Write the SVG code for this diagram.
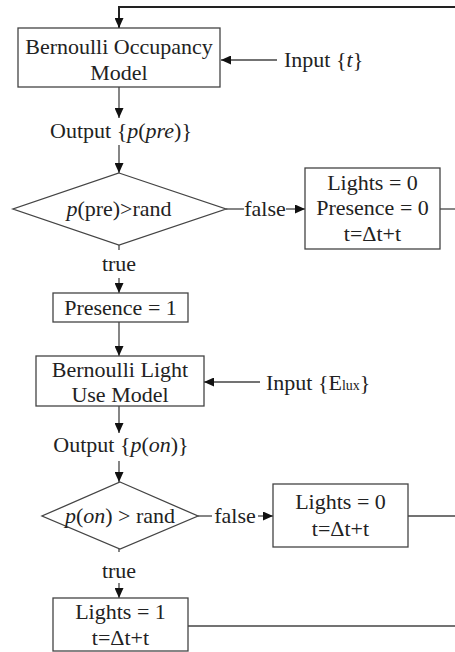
<svg xmlns="http://www.w3.org/2000/svg" width="455" height="652" viewBox="0 0 455 652">
<style>
text{font-family:"Liberation Serif","Times New Roman",serif;font-size:22px;fill:#222;}
.c{text-anchor:middle;}
.i{font-style:italic;}
.n{fill:#fff;stroke:#444;stroke-width:1.3;}
.e{fill:none;stroke:#444;stroke-width:1.3;}
.e2{fill:none;stroke:#222;stroke-width:2;}
</style>
<defs>
<marker id="a" markerUnits="userSpaceOnUse" markerWidth="10" markerHeight="9" refX="10" refY="4.5" orient="auto">
<path d="M0,0 L10,4.5 L0,9 z" fill="#111"/>
</marker>
</defs>
<rect width="455" height="652" fill="#fff"/>
<g id="connectors">
<path class="e2" d="M455,7 H119 V28" marker-end="url(#a)"/>
<line class="e" x1="277" y1="60" x2="221" y2="60" marker-end="url(#a)"/>
<line class="e" x1="119" y1="87" x2="119" y2="118" marker-end="url(#a)"/>
<line class="e" x1="119" y1="145" x2="119" y2="173" marker-end="url(#a)"/>
<line class="e" x1="226" y1="209" x2="244" y2="209"/>
<line class="e" x1="286" y1="209" x2="305" y2="209" marker-end="url(#a)"/>
<line class="e" x1="440" y1="209" x2="455" y2="209"/>
<line class="e" x1="119" y1="245" x2="119" y2="250"/>
<line class="e" x1="119" y1="278" x2="119" y2="293" marker-end="url(#a)"/>
<line class="e" x1="119" y1="322" x2="119" y2="356" marker-end="url(#a)"/>
<line class="e" x1="260" y1="382" x2="204" y2="382" marker-end="url(#a)"/>
<line class="e" x1="119" y1="406" x2="119" y2="433" marker-end="url(#a)"/>
<line class="e" x1="119" y1="461" x2="119" y2="482" marker-end="url(#a)"/>
<line class="e" x1="198" y1="516" x2="212" y2="516"/>
<line class="e" x1="258" y1="516" x2="273" y2="516" marker-end="url(#a)"/>
<line class="e" x1="408" y1="516" x2="455" y2="516"/>
<line class="e" x1="119" y1="549" x2="119" y2="552"/>
<line class="e" x1="119" y1="583" x2="119" y2="598" marker-end="url(#a)"/>
<line class="e" x1="188" y1="626" x2="455" y2="626"/>
<text x="265" y="216" class="c">false</text>
<text x="235" y="523" class="c">false</text>
<text x="119" y="271" class="c">true</text>
<text x="119" y="578" class="c">true</text>
<text x="284" y="67">Input {<tspan class="i">t</tspan>}</text>
<text x="266" y="390">Input {E<tspan font-size="14">lux</tspan>}</text>
<text x="121" y="138" class="c">Output {<tspan class="i">p</tspan>(<tspan class="i">pre</tspan>)}</text>
<text x="121" y="452" class="c">Output {<tspan class="i">p</tspan>(<tspan class="i">on</tspan>)}</text>
</g>
<g id="occupancy-model">
<rect class="n" x="18" y="28" width="202" height="59"/>
<text x="119" y="54" class="c">Bernoulli Occupancy</text>
<text x="119" y="80" class="c">Model</text>
</g>
<g id="decision-presence">
<polygon class="n" points="119,173 226,209 119,245 13,209"/>
<text x="119" y="216" class="c"><tspan class="i">p</tspan>(pre)&gt;rand</text>
</g>
<g id="absent-state">
<rect class="n" x="305" y="168" width="135" height="81"/>
<text x="372.5" y="190" class="c">Lights = 0</text>
<text x="372.5" y="215" class="c">Presence = 0</text>
<text x="372.5" y="241" class="c">t=Δt+t</text>
</g>
<g id="presence-one">
<rect class="n" x="53" y="293" width="135" height="29"/>
<text x="120.5" y="315" class="c">Presence = 1</text>
</g>
<g id="light-use-model">
<rect class="n" x="36" y="356" width="168" height="50"/>
<text x="120" y="377" class="c">Bernoulli Light</text>
<text x="120" y="402" class="c">Use Model</text>
</g>
<g id="decision-light">
<polygon class="n" points="120,482 198,516 120,549 42,516"/>
<text x="120" y="523" class="c"><tspan class="i">p</tspan>(<tspan class="i">on</tspan>) &gt; rand</text>
</g>
<g id="lights-off">
<rect class="n" x="273" y="484" width="135" height="63"/>
<text x="340.5" y="509" class="c">Lights = 0</text>
<text x="340.5" y="536" class="c">t=Δt+t</text>
</g>
<g id="lights-on">
<rect class="n" x="53" y="598" width="135" height="53"/>
<text x="120.5" y="619" class="c">Lights = 1</text>
<text x="120.5" y="645" class="c">t=Δt+t</text>
</g>
</svg>
